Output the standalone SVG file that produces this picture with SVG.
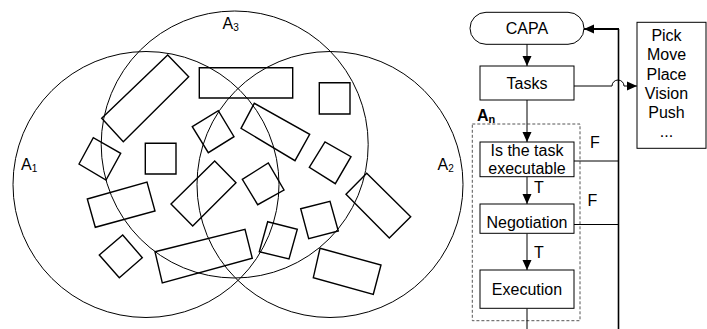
<svg xmlns="http://www.w3.org/2000/svg" width="707" height="329" viewBox="0 0 707 329">
<style>
.c{fill:none;stroke:#000;stroke-width:1}
.r{fill:none;stroke:#000;stroke-width:1.4}
.b{fill:#fff;stroke:#000;stroke-width:1}
.l{fill:none;stroke:#000;stroke-width:1}
.t{font-family:"Liberation Sans",Arial,sans-serif;font-size:16px;fill:#000}
.m{text-anchor:middle}
.s{font-size:10px}
</style>
<defs>
<marker id="ah" markerWidth="10" markerHeight="10" refX="10" refY="5" orient="auto" markerUnits="userSpaceOnUse" viewBox="0 0 10 10">
<path d="M0,0.5 L10,5 L0,9.5 z" fill="#000"/>
</marker>
</defs>
<rect width="707" height="329" fill="#fff"/>
<g id="sets">
<circle class="c" cx="146" cy="184.5" r="133"/>
<circle class="c" cx="234.7" cy="144.5" r="133.5"/>
<circle class="c" cx="330" cy="184.5" r="133"/>
<text class="t" x="21" y="170">A<tspan class="s" dy="2">1</tspan></text>
<text class="t" x="222.5" y="29">A<tspan class="s" dy="2">3</tspan></text>
<text class="t" x="437.5" y="170">A<tspan class="s" dy="2">2</tspan></text>
</g>
<g id="objects">
<polygon class="r" points="101.7,118.3 167.7,55 188.7,76.7 123.3,141.7"/>
<polygon class="r" points="199.3,67.7 292.7,67.7 292.7,98 199.3,98"/>
<polygon class="r" points="319.3,82.7 350,82.7 350,114 319.3,114"/>
<polygon class="r" points="192.3,126.7 218.3,110.7 234,136.7 208.3,152.7"/>
<polygon class="r" points="241,128.3 254.3,103.3 309.7,134.3 295,160.7"/>
<polygon class="r" points="79,164 93.3,137.7 120.7,153.3 106,180"/>
<polygon class="r" points="145.3,143.3 176,143.3 176,174 145.3,174"/>
<polygon class="r" points="309.3,167.3 325,142 351,156.7 335.3,183.7"/>
<polygon class="r" points="87.3,199 147,182 155,211 95.3,227.3"/>
<polygon class="r" points="171,204 214.7,161 236,182.7 192.7,226"/>
<polygon class="r" points="242.3,179.3 268.3,163 284,190 257.7,204.7"/>
<polygon class="r" points="346,194.3 366.7,173.3 410.7,216.7 389.3,238"/>
<polygon class="r" points="300.7,208.7 330,201.3 338.3,231 308.7,238.7"/>
<polygon class="r" points="99.3,255 122.7,235 142.3,257.7 119.3,277.7"/>
<polygon class="r" points="155,251.7 245,229.3 252.3,258.3 162.3,283"/>
<polygon class="r" points="267.7,221.7 297.3,229.3 289,259 259.3,251.7"/>
<polygon class="r" points="320,248.3 381,265 373.3,294.3 313.3,277.7"/>
</g>
<g id="agent-box">
<rect x="472.3" y="124" width="107.7" height="196.7" fill="none" stroke="#555" stroke-width="1" stroke-dasharray="3,2"/>
<text class="t" x="477" y="120.5" font-weight="bold" font-size="14">A<tspan font-size="11" dy="2">n</tspan></text>
</g>
<g id="connectors">
<line class="l" x1="527" y1="44" x2="527" y2="66" marker-end="url(#ah)"/>
<line class="l" x1="527" y1="100" x2="527" y2="142" marker-end="url(#ah)"/>
<line class="l" x1="527" y1="177" x2="527" y2="204" marker-end="url(#ah)"/>
<line class="l" x1="527" y1="233.5" x2="527" y2="270" marker-end="url(#ah)"/>
<line class="l" x1="527" y1="308.5" x2="527" y2="329"/>
<path class="l" d="M574,86 H612 A6,6 0 0 1 624,86 H637" marker-end="url(#ah)"/>
<line x1="618.5" y1="29" x2="618.5" y2="329" stroke="#000" stroke-width="1.6"/>
<line x1="619" y1="29" x2="584" y2="29" stroke="#000" stroke-width="2" marker-end="url(#ah)"/>
<line class="l" x1="574" y1="161" x2="618" y2="161"/>
<line class="l" x1="574" y1="224.5" x2="618" y2="224.5"/>
<text class="t" x="590" y="148">F</text>
<text class="t" x="587.5" y="206">F</text>
<text class="t" x="534" y="193">T</text>
<text class="t" x="534" y="257.5">T</text>
</g>
<g id="capa">
<rect class="b" x="470" y="12.3" width="114" height="32" rx="16" ry="16"/>
<text class="t m" x="527" y="34">CAPA</text>
</g>
<g id="tasks">
<rect class="b" x="480" y="66" width="94" height="34"/>
<text class="t m" x="527" y="89">Tasks</text>
</g>
<g id="executable">
<rect class="b" x="480" y="142" width="94" height="34.7"/>
<text class="t m" x="527" y="156">Is the task</text>
<text class="t m" x="527" y="174">executable</text>
</g>
<g id="negotiation">
<rect class="b" x="480" y="204" width="94" height="29.3"/>
<text class="t m" x="527" y="228">Negotiation</text>
</g>
<g id="execution">
<rect class="b" x="480" y="270" width="94" height="38.3"/>
<text class="t m" x="527" y="295">Execution</text>
</g>
<g id="skills">
<rect class="b" x="637" y="22.3" width="69" height="126"/>
<text class="t m" x="666.5" y="41">Pick</text>
<text class="t m" x="666.5" y="60">Move</text>
<text class="t m" x="666.5" y="80">Place</text>
<text class="t m" x="666.5" y="99">Vision</text>
<text class="t m" x="666.5" y="118">Push</text>
<text class="t m" x="666.5" y="137">...</text>
</g>
</svg>
